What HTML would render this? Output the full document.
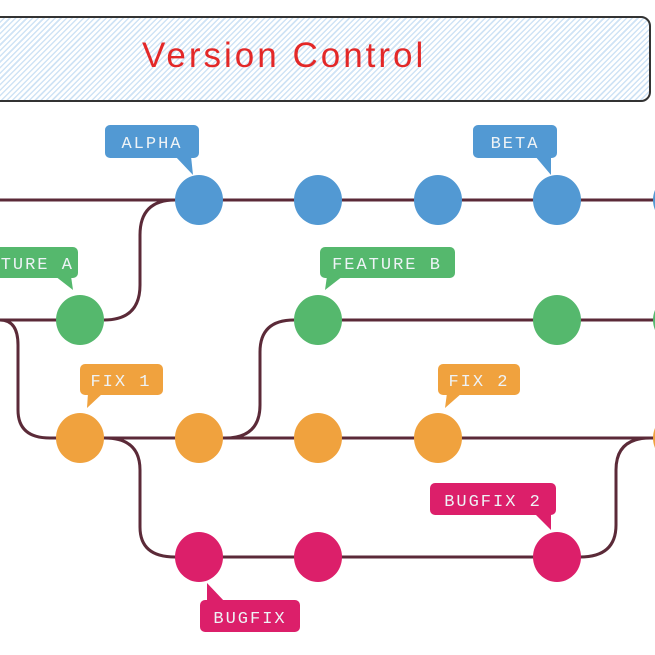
<!DOCTYPE html>
<html><head><meta charset="utf-8"><style>
html,body{margin:0;padding:0;background:#fff;}
body{width:655px;height:655px;position:relative;overflow:hidden;font-family:"Liberation Sans",sans-serif;}
.title{position:absolute;left:-10px;top:16px;width:657px;height:82px;border:2px solid #333;border-radius:10px;
background:repeating-linear-gradient(135deg,#cfe3f5 0 1.5px,#fff 1.5px 4px);}
.title span{position:absolute;left:150px;top:18px;font-family:"Liberation Sans",sans-serif;font-size:35px;color:#e32828;letter-spacing:3px;}
svg{position:absolute;left:0;top:0;}
</style></head><body>
<div class="title"><span>Version Control</span></div>
<svg width="655" height="655" viewBox="0 0 655 655">
<g fill="none" stroke="#5b2a38" stroke-width="3">
<path d="M0 200 H655"/>
<path d="M0 320 H80"/>
<path d="M104 320 Q140 320 140 285 V235 Q140 200 175 200"/>
<path d="M318 320 H655"/>
<path d="M0 320 Q18 320 18 345 V410 Q18 438 50 438 H655"/>
<path d="M225 438 Q260 438 260 405 V352 Q260 320 294 320"/>
<path d="M105 438 Q140 438 140 470 V527 Q140 557 175 557 H557"/>
<path d="M580 557 Q616 557 616 525 V470 Q616 438 650 438"/>
</g>
<g fill="#5299d3"><ellipse cx="199" cy="200" rx="24" ry="25"/><ellipse cx="318" cy="200" rx="24" ry="25"/><ellipse cx="438" cy="200" rx="24" ry="25"/><ellipse cx="557" cy="200" rx="24" ry="25"/><ellipse cx="677" cy="200" rx="24" ry="25"/></g>
<g fill="#55b86d"><ellipse cx="80" cy="320" rx="24" ry="25"/><ellipse cx="318" cy="320" rx="24" ry="25"/><ellipse cx="557" cy="320" rx="24" ry="25"/><ellipse cx="677" cy="320" rx="24" ry="25"/></g>
<g fill="#f0a23e"><ellipse cx="80" cy="438" rx="24" ry="25"/><ellipse cx="199" cy="438" rx="24" ry="25"/><ellipse cx="318" cy="438" rx="24" ry="25"/><ellipse cx="438" cy="438" rx="24" ry="25"/><ellipse cx="677" cy="438" rx="24" ry="25"/></g>
<g fill="#dc1f6a"><ellipse cx="199" cy="557" rx="24" ry="25"/><ellipse cx="318" cy="557" rx="24" ry="25"/><ellipse cx="557" cy="557" rx="24" ry="25"/></g>
<g font-family="Liberation Mono,monospace" font-size="17" fill="#eef3f6" letter-spacing="2">
<rect x="105" y="125" width="94" height="33" rx="5" fill="#5299d3"/><path d="M175 156 L193 175 L191 156Z" fill="#5299d3"/>
<text x="152" y="148" text-anchor="middle">ALPHA</text>
<rect x="473" y="125" width="84" height="33" rx="5" fill="#5299d3"/><path d="M535 156 L551 175 L551 156Z" fill="#5299d3"/>
<text x="515" y="148" text-anchor="middle">BETA</text>
<rect x="-40" y="247" width="118" height="31" rx="5" fill="#55b86d"/><path d="M55 276 L73 290 L71 276Z" fill="#55b86d"/>
<text x="19" y="269" text-anchor="middle">FEATURE A</text>
<rect x="320" y="247" width="135" height="31" rx="5" fill="#55b86d"/><path d="M327 276 L325 290 L343 276Z" fill="#55b86d"/>
<text x="387" y="269" text-anchor="middle">FEATURE B</text>
<rect x="80" y="364" width="83" height="31" rx="5" fill="#f0a23e"/><path d="M88 393 L87 408 L103 393Z" fill="#f0a23e"/>
<text x="121" y="386" text-anchor="middle">FIX 1</text>
<rect x="438" y="364" width="82" height="31" rx="5" fill="#f0a23e"/><path d="M447 393 L445 408 L462 393Z" fill="#f0a23e"/>
<text x="479" y="386" text-anchor="middle">FIX 2</text>
<rect x="430" y="483" width="126" height="32" rx="5" fill="#dc1f6a"/><path d="M534 513 L551 530 L551 513Z" fill="#dc1f6a"/>
<text x="493" y="506" text-anchor="middle">BUGFIX 2</text>
<rect x="200" y="600" width="100" height="32" rx="5" fill="#dc1f6a"/><path d="M207 602 L207 583 L225 602Z" fill="#dc1f6a"/>
<text x="250" y="623" text-anchor="middle">BUGFIX</text>
</g>
</svg>
</body></html>
